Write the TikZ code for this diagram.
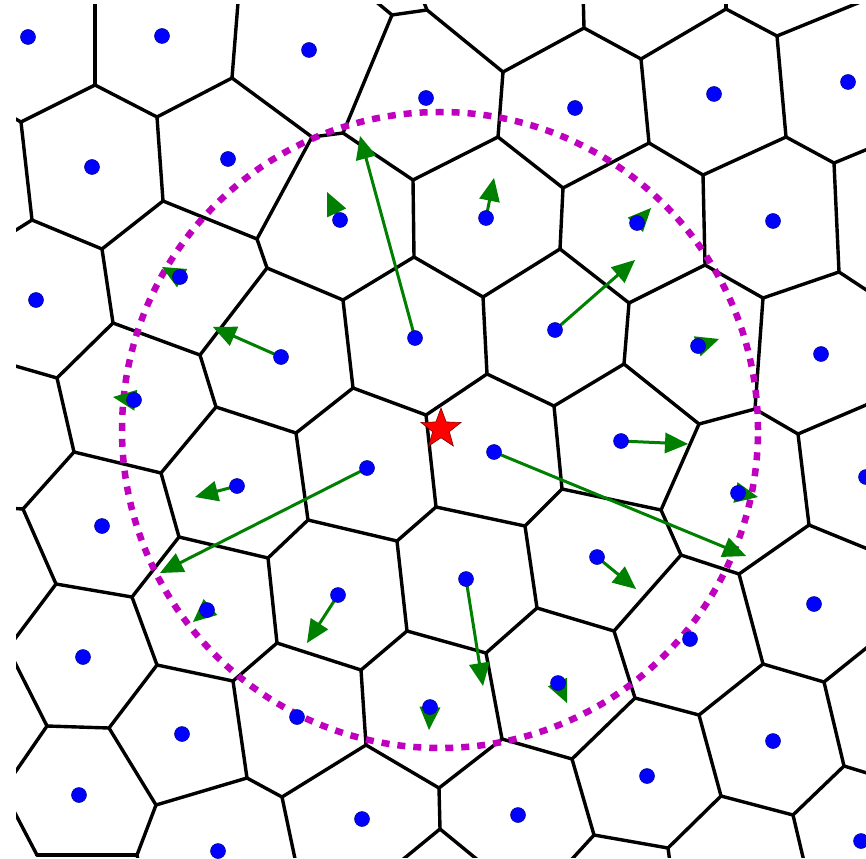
\documentclass[tikz,border=0pt]{standalone}
\usetikzlibrary{calc,shapes.geometric}
\definecolor{mag}{rgb}{0.75,0,0.75}
\definecolor{grn}{rgb}{0,0.5,0}
\newcommand{\garrow}[2]{%
  \coordinate (hb) at ($(#2)!23pt!(#1)$);
  \coordinate (sh) at ($(#2)!16pt!(#1)$);
  \draw[gshaft] (#1) -- (sh);
  \fill[grn] (#2) -- ($(hb)!10.5pt!90:(#2)$) -- ($(hb)!10.5pt!-90:(#2)$) -- cycle;}
\begin{document}
\begin{tikzpicture}[x=1pt,y=-1pt,
  vor/.style={line width=3.4pt,line join=round,line cap=round,black},
  gshaft/.style={line width=3pt,grn},
  site/.style={circle,fill=blue,draw=blue!55!black,line width=0.5pt,inner sep=0pt,minimum size=15pt},
  ring/.style={mag,line width=6.5pt,dash pattern=on 8pt off 8pt}]
\fill[white] (0,0) rectangle (866,858);
\useasboundingbox (0,0) rectangle (866,858);
% Voronoi vertices
\foreach \n/\x/\y in {1/95/85,2/157/117,3/232/78,4/21/122,5/32/220,6/102/249,7/163/201,8/257/239,9/267/268,10/312/137,
 11/343/133,12/392/15,13/427/10,14/503/72,15/584/28,16/498/137,17/413/180,18/414/257,19/563/188,20/560/249,
 21/483/297,22/343/300,23/641/59,24/726/9,25/777/36,26/786/137,27/649/143,28/703/175,29/834/163,30/839/272,
 31/705/265,32/763/298,33/629/303,34/113/323,35/200/355,36/57/378,37/74/452,38/216/407,39/296/433,40/161/473,
 41/23/509,42/56/584,43/179/537,44/268/558,45/353/388,46/426/415,47/487/374,48/554/406,49/562/489,50/525/526,
 51/436/507,52/397/541,53/308/520,54/624/364,55/699/424,56/755/409,57/798/434,58/809/525,59/739/574,60/681/555,
 61/661/510,62/132/597,63/157/665,64/233/681,65/277/643,66/247/778,67/282/797,68/156/805,69/109/728,70/47/726,
 71/137/855,72/37/855,73/407/631,74/486/653,75/537/608,76/361/670,77/366/745,78/439/788,79/502/739,80/572/759,
 81/440/829,82/763/664,83/824/682,84/844/766,85/793/815,86/721/796,87/699/715,88/635/698,89/614/631,90/668/848,
 91/594/835}
  \coordinate (v\n) at (\x,\y);
% border ends
\foreach \n/\x/\y in {1/95/-10,2/239/-10,3/368/-5,4/421/-5,5/583/-10,6/726/-10,7/880/-6,8/5/113,9/5/237,10/880/144,
 11/880/299,12/5/363,13/5/508,14/5/652,15/880/399,16/880/554,17/298/873,18/5/643,19/5/787,20/5/794,
 21/140/870,22/390/870,23/490/870,24/880/637,25/880/777,26/806/870,27/671/870,28/562/870}
  \coordinate (b\n) at (\x,\y);
% sites
\foreach \n/\x/\y in {1/28/37,2/162/36,3/309/50,4/426/98,5/575/108,6/714/94,7/848/82,
 8/92/167,9/228/159,10/340/220,11/486/218,12/637/223,13/773/221,
 14/180/277,15/36/300,16/281/357,17/415/338,18/555/330,19/698/346,20/821/354,
 21/134/400,22/367/468,23/494/452,24/621/441,25/738/493,26/866/477,
 27/237/486,28/102/526,29/207/610,30/338/595,31/466/579,32/597/557,33/690/639,34/814/604,
 35/83/657,36/182/734,37/79/795,38/297/717,39/430/707,40/558/683,41/773/741,
 42/218/851,43/362/819,44/518/815,45/647/776,46/861/841}
  \coordinate (p\n) at (\x,\y);
\begin{scope}
\clip (16,5) rectangle (866,857);
\foreach \a/\b in {1/4,1/2,2/3,2/7,3/10,4/5,5/6,6/7,6/34,7/8,8/10,8/9,9/22,9/35,10/11,11/12,11/17,12/13,13/14,
 14/15,14/16,15/23,16/17,16/19,17/18,18/21,18/22,19/20,19/27,20/21,20/33,21/47,22/45,23/24,23/27,24/25,25/26,
 26/28,26/29,27/28,28/31,29/30,30/32,31/32,31/33,32/56,33/54,34/35,34/36,35/38,36/37,37/40,37/41,38/39,38/40,
 39/45,39/53,40/43,41/42,42/62,43/44,43/62,44/53,44/65,45/46,46/47,46/51,47/48,48/54,48/49,49/50,49/61,50/51,
 50/75,51/52,52/53,52/73,54/55,55/56,55/61,56/57,57/58,58/59,59/60,59/82,60/61,60/89,62/63,63/64,63/69,64/65,
 64/66,65/76,66/67,66/68,67/77,68/69,68/71,69/70,71/72,73/74,73/76,74/75,74/79,75/89,76/77,77/78,78/79,78/81,
 79/80,80/88,80/91,82/83,82/87,83/84,84/85,85/86,86/87,86/90,87/88,88/89,90/91}
  \draw[vor] (v\a) -- (v\b);
\foreach \a/\b in {1/1,3/2,12/3,13/4,15/5,24/6,25/7,4/8,5/9,29/10,30/11,36/12,41/13,42/14,57/15,58/16,67/17,
 70/18,70/19,72/20,71/21,81/22,81/23,83/24,84/25,85/26,90/27,91/28}
  \draw[vor] (v\a) -- (b\b);
\end{scope}
% circle
\draw[ring] (440,430) circle (318pt);
% arrows
\foreach \s/\x/\y in {10/327/192,11/494/178,17/360/136,12/651/208,18/635/260,14/162/267,16/213/327,21/113/397,
 19/719/339,24/688/444,27/195/497,22/160/573,23/746/556,25/758/497,32/636/589,29/193/622,30/307/643,31/483/686,
 39/429/730,40/567/703}
  {\coordinate (t\s) at (\x,\y); \garrow{p\s}{t\s}}
% sites drawn
\begin{scope}
\clip (0,0) rectangle (866,858);
\foreach \n in {1,...,46}
  \node[site] (s\n) at (p\n) {};
\end{scope}
% star
\node[star,star points=5,star point ratio=2.4,minimum size=42pt,inner sep=0pt,fill=red,draw=red!50!black,line width=0.6pt] (target) at (441,429) {};
\end{tikzpicture}
\end{document}
